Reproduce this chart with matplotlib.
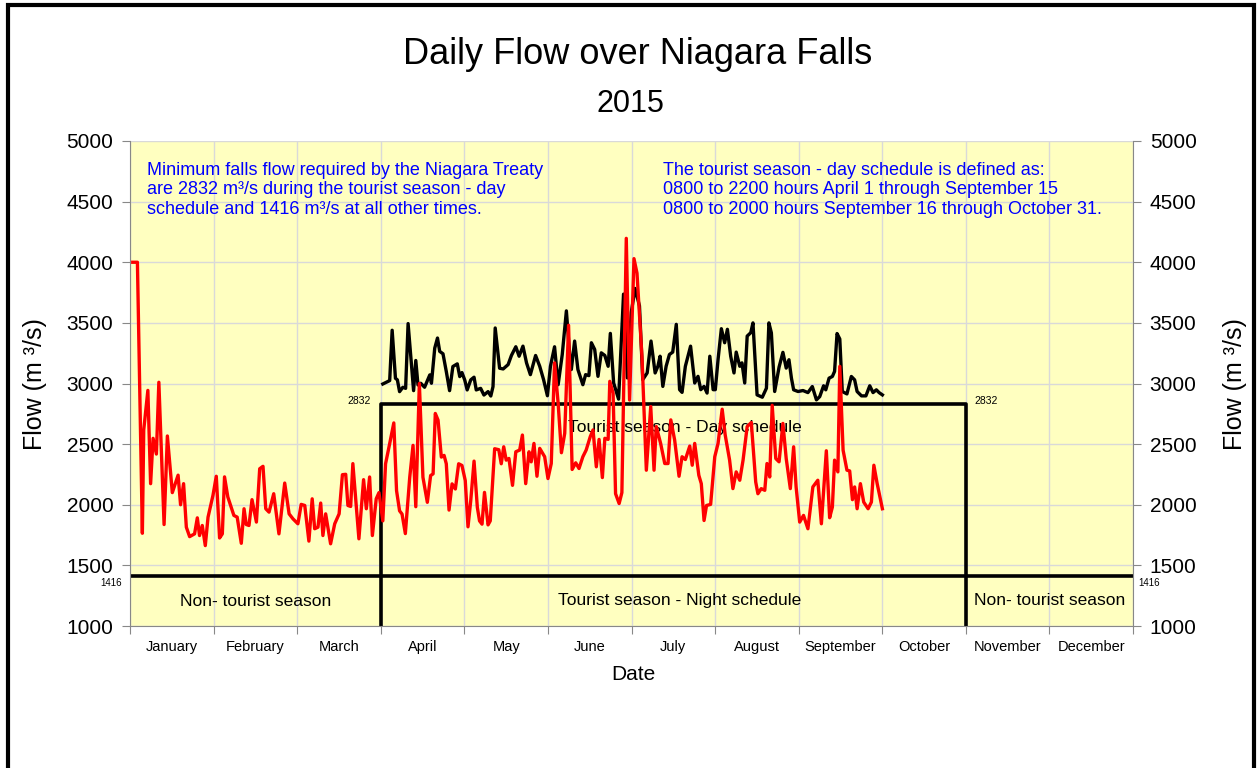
import matplotlib
matplotlib.use("Agg")
import matplotlib.pyplot as plt
from matplotlib.patches import Rectangle
import numpy as np

plt.rcParams['font.family'] = ['Liberation Sans', 'DejaVu Sans']

months = ["January", "February", "March", "April", "May", "June", "July",
          "August", "September", "October", "November", "December"]

# daily flow, all hours (red) - day of year
red_day = [1.0, 2.7, 4.5, 5.0, 6.5, 7.5, 8.4, 9.6, 10.5, 12.4, 13.6, 15.4, 17.5, 18.4,
           19.5, 20.5, 21.7, 23.5, 24.5, 25.3, 26.3, 27.4, 28.4, 30.2, 31.4, 32.6, 33.6,
           34.4, 35.6, 37.8, 39.0, 40.5, 41.5, 42.3, 43.3, 44.4, 46.0, 47.2, 48.4, 49.4,
           50.6, 52.3, 54.2, 56.3, 57.9, 59.3, 61.1, 62.3, 63.6, 65.1, 66.3, 67.2, 68.4,
           69.4, 70.2, 71.2, 73.0, 74.5, 76.1, 77.3, 78.5, 79.3, 80.3, 81.1, 83.3, 85.0,
           86.0, 87.2, 88.2, 89.6, 90.6, 92.0, 93.0, 94.5, 96.0, 97.0, 98.1, 99.0, 100.2,
           101.8, 103.0, 104.0, 105.3, 106.6, 108.2, 109.4, 110.3, 111.1, 112.1, 113.3,
           114.3, 115.1, 116.1, 117.2, 118.4, 119.6, 120.8, 122.0, 123.0, 124.0, 125.2,
           126.4, 127.2, 128.1, 129.0, 130.3, 131.1, 132.7, 134.2, 135.1, 136.0, 136.9,
           137.9, 139.2, 140.4, 141.8, 142.8, 144.0, 145.2, 146.0, 147.0, 148.1, 149.1,
           150.9, 152.1, 153.3, 154.5, 155.8, 157.0, 158.2, 159.6, 160.9, 162.2, 163.4,
           164.8, 166.0, 167.5, 168.5, 169.7, 170.7, 171.9, 172.8, 174.0, 174.6, 175.8,
           176.7, 178.0, 179.0, 180.6, 181.8, 183.4, 184.5, 186.3, 187.9, 189.5, 190.7,
           191.5, 193.1, 194.6, 195.8, 196.8, 198.2, 199.8, 200.9, 202.1, 203.7, 204.6,
           205.5, 207.0, 207.9, 208.9, 209.8, 211.3, 212.8, 214.0, 215.5, 216.6, 218.2,
           219.4, 220.6, 221.9, 223.1, 224.6, 226.1, 227.7, 228.5, 229.7, 231.0, 231.8,
           232.8, 233.7, 235.0, 236.2, 237.6, 238.8, 240.3, 241.5, 242.4, 243.7, 245.1,
           246.7, 248.5, 250.3, 251.6, 253.4, 254.6, 255.6, 256.4, 257.6, 258.3, 259.5,
           260.9, 261.9, 262.9, 263.7, 264.6, 265.8, 267.0, 268.6, 269.8, 270.7, 271.9,
           273.8]
red_flow = [4000, 4000, 1765, 2617, 2943, 2174, 2548, 2418, 3010, 1837, 2567, 2100, 2244, 2000,
            2174, 1815, 1737, 1760, 1892, 1746, 1829, 1663, 1898, 2078, 2235, 1726, 1760,
            2230, 2064, 1912, 1898, 1682, 1967, 1837, 1829, 2042, 1857, 2297, 2317, 1967,
            1939, 2091, 1760, 2179, 1925, 1884, 1843, 2003, 1994, 1700, 2049, 1802, 1815,
            2014, 1746, 1925, 1678, 1843, 1925, 2248, 2251, 1994, 1986, 2339, 1719, 2207,
            1967, 2229, 1746, 2049, 2100, 1867, 2338, 2504, 2675, 2116, 1950, 1923, 1762,
            2227, 2490, 1984, 3000, 2227, 2020, 2241, 2255, 2753, 2698, 2393,
            2407, 2338, 1956, 2172, 2130, 2338, 2324, 2200, 1818, 2034, 2360,
            1978, 1867, 1840, 2102, 1834, 1867, 2462, 2454, 2338, 2478, 2368,
            2382, 2160, 2437, 2451, 2575, 2174, 2437, 2354, 2506, 2235, 2465,
            2396, 2216, 2340, 3170, 2838, 2429, 2589, 3480, 2291, 2346, 2299,
            2396, 2451, 2562, 2617, 2313, 2539, 2224, 2548, 2539, 3018, 2921,
            2091, 2010, 2100, 4197, 2864, 4030, 3910, 3225, 2285, 2810, 2285,
            2645, 2506, 2340, 2340, 2700, 2534, 2235, 2396, 2373, 2484, 2326,
            2506, 2243, 2174, 1870, 1994, 2003, 2396, 2506, 2788, 2575, 2368,
            2133, 2271, 2202, 2368, 2645, 2678, 2188, 2091, 2133, 2119, 2340,
            2229, 2820, 2381, 2354, 2671, 2381, 2133, 2478, 2147, 1857, 1912,
            1802, 2147, 2202, 1843, 2445, 1893, 1981, 2368, 2271, 3141, 2450,
            2285, 2279, 2042, 2147, 1967, 2174, 2022, 1967, 2022, 2326, 2174,
            1967]

# day schedule flow (black)
black_day = [92.0, 94.5, 95.4, 96.6, 97.3, 98.1, 99.3, 100.3, 101.2, 102.4, 103.2, 104.0,
             104.8, 105.8, 107.2, 109.1, 109.7, 110.9, 111.9, 112.7, 113.9, 115.1, 116.3,
             117.5, 119.1, 120.0, 120.8, 121.8, 122.7, 124.0, 125.2, 126.0, 127.6, 128.8,
             130.3, 131.3, 132.1, 132.9, 134.5, 135.8, 137.6, 138.8, 140.4, 141.6, 143.0,
             144.3, 145.7, 147.6, 149.1, 150.5, 151.9, 153.0, 154.5, 155.8, 157.3, 158.8,
             160.0, 160.6, 161.8, 163.0, 164.8, 165.8, 167.0, 167.9, 169.1, 170.3, 171.5,
             172.8, 174.0, 174.8, 176.0, 177.8, 179.6, 181.0, 182.4, 183.8, 185.4, 186.6,
             188.2, 189.6, 191.1, 192.1, 192.9, 193.9, 195.1, 196.3, 197.5, 198.8, 200.0,
             200.9, 202.1, 204.0, 205.5, 206.7, 207.7, 208.9, 210.0, 211.0, 212.2, 213.0,
             214.0, 215.2, 216.4, 217.4, 218.6, 219.8, 220.6, 221.9, 222.7, 223.7, 224.6,
             225.9, 226.7, 228.2, 230.1, 231.6, 232.5, 233.4, 234.6, 236.2, 237.6, 238.8,
             239.8, 240.7, 241.5, 243.1, 244.9, 246.7, 248.3, 249.8, 251.0, 252.4, 253.2,
             254.4, 255.6, 256.4, 257.3, 258.3, 259.2, 260.9, 262.5, 263.7, 264.6, 266.2,
             267.8, 269.2, 270.4, 271.6, 272.6, 273.8]
black_flow = [2996, 3024, 3439, 3043, 3030, 2933, 2969, 2960, 3494, 3168, 2941, 3190,
              2988, 3002, 2969, 3071, 3002, 3292, 3375, 3265, 3245, 3099, 2941,
              3140, 3162, 3057, 3090, 3030, 2947, 3030, 3052, 2947, 2960, 2905,
              2933, 2897, 2974, 3458, 3126, 3120, 3156, 3231, 3303, 3225, 3308,
              3170, 3073, 3231, 3142, 3032, 2899, 3142, 3303, 2990, 3239, 3599,
              3239, 3115, 3350, 3115, 2990, 3073, 3065, 3336, 3281, 3059, 3253,
              3231, 3142, 3413, 3004, 2871, 3737, 3046, 3585, 3784, 3640, 3032,
              3087, 3350, 3087, 3142, 3225, 2976, 3142, 3239, 3259, 3488, 2949,
              2927, 3142, 3308, 3004, 3059, 2949, 2976, 2921, 3225, 2949, 2949,
              3198, 3452, 3336, 3447, 3225, 3087, 3259, 3142, 3170, 3004, 3391,
              3419, 3500, 2906, 2887, 2961, 3500, 3417, 2934, 3135, 3257, 3127,
              3196, 3044, 2948, 2934, 2942, 2925, 2975, 2865, 2892, 2981, 2948,
              3044, 3058, 3100, 3412, 3367, 2934, 2914, 3058, 3030, 2934, 2898,
              2898, 2981, 2925, 2948, 2925, 2906]

night_min = 1416
day_min = 2832
season_start = 3 * 365 / 12    # April 1
season_end = 10 * 365 / 12     # October 31

fig = plt.figure(figsize=(12.6, 7.68), dpi=100)
fig.patches.append(Rectangle((8 / 1260, -0.02), 1246 / 1260, 1.02 - 5 / 768,
                             transform=fig.transFigure, fill=False, lw=3, ec='black'))

ax = fig.add_axes([130 / 1260, 1 - 626 / 768, 1003 / 1260, 485 / 768])
ax.set_facecolor('#FFFFC0')
ax.set_xlim(0, 365)
ax.set_ylim(1000, 5000)

bounds = np.arange(13) * 365 / 12
ax.set_xticks(bounds)
ax.set_xticklabels([])
ax.set_xticks(bounds[:-1] + 365 / 24, minor=True)
ax.set_xticklabels(months, minor=True, fontsize=10.5)
ax.tick_params(axis='x', which='minor', length=0, pad=10)
ax.tick_params(axis='x', which='major', length=6, color='#888888')
ax.set_yticks(range(1000, 5001, 500))
ax.tick_params(axis='y', labelsize=15, length=6, color='#888888', right=True,
               labelright=True, pad=6)
ax.grid(which='major', color='#D9D9D9', lw=1)
ax.set_axisbelow(True)
ax.spines['top'].set_visible(False)
for s in ['left', 'right', 'bottom']:
    ax.spines[s].set_color('#888888')

# treaty minimum lines
ax.plot([0, 365], [night_min, night_min], color='black', lw=2.6, zorder=2)
ax.plot([season_start, season_start, season_end, season_end],
        [1000, day_min, day_min, 1000], color='black', lw=2.6, zorder=2)

ax.plot(black_day, black_flow, color='black', lw=2.4, zorder=3)
ax.plot(red_day, red_flow, color='red', lw=2.4, zorder=4)

ax.annotate(str(day_min), (season_start, day_min), xytext=(-7, 2), textcoords='offset points',
            ha='right', va='center', fontsize=7.5)
ax.annotate(str(day_min), (season_end, day_min), xytext=(6, 2), textcoords='offset points',
            ha='left', va='center', fontsize=7.5)
ax.annotate(str(night_min), (0, night_min), xytext=(-6, -5), textcoords='offset points',
            ha='right', va='center', fontsize=7, annotation_clip=False)
ax.annotate(str(night_min), (365, night_min), xytext=(4, -5), textcoords='offset points',
            ha='left', va='center', fontsize=7, annotation_clip=False)

ax.text(season_start / 2, 1206, "Non- tourist season", ha='center', va='center', fontsize=12.5)
ax.text(200, 1214, "Tourist season - Night schedule", ha='center', va='center', fontsize=12.5)
ax.text((season_end + 365) / 2, 1214, "Non- tourist season", ha='center', va='center',
        fontsize=12.5)
ax.text(202, 2641, "Tourist season - Day schedule", ha='center', va='center', fontsize=12.5)

ax.text(0.017, 0.957, "Minimum falls flow required by the Niagara Treaty\n"
        "are 2832 m³/s during the tourist season - day\n"
        "schedule and 1416 m³/s at all other times.",
        transform=ax.transAxes, ha='left', va='top', fontsize=13, color='#0000FF',
        linespacing=1.2)
ax.text(0.531, 0.957, "The tourist season - day schedule is defined as:\n"
        "0800 to 2200 hours April 1 through September 15\n"
        "0800 to 2000 hours September 16 through October 31.",
        transform=ax.transAxes, ha='left', va='top', fontsize=13, color='#0000FF',
        linespacing=1.2)

fig.text(638 / 1260, 1 - 55 / 768, "Daily Flow over Niagara Falls", ha='center', va='center',
         fontsize=26)
fig.text(630 / 1260, 1 - 104 / 768, "2015", ha='center', va='center', fontsize=22)
fig.text(35 / 1260, 1 - 384 / 768, "Flow (m ³/s)", rotation=90, ha='center', va='center',
         fontsize=18)
fig.text(1235 / 1260, 1 - 384 / 768, "Flow (m ³/s)", rotation=90, ha='center', va='center',
         fontsize=18)
fig.text(633 / 1260, 1 - 675 / 768, "Date", ha='center', va='center', fontsize=15)

fig.savefig("out.png", dpi=100)
